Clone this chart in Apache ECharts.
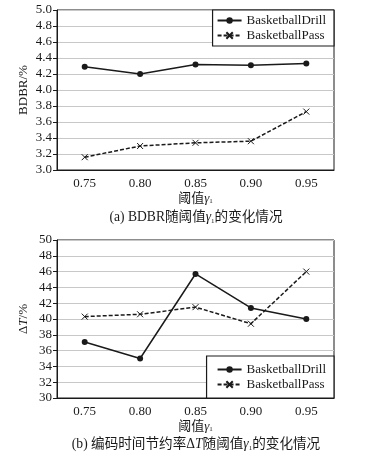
<!DOCTYPE html>
<html><head><meta charset="utf-8">
<script src="https://cdn.jsdelivr.net/npm/echarts@6/dist/echarts.min.js"></script>
<style>html,body{margin:0;padding:0;background:#fff}#c{width:366px;height:460px}</style>
</head><body><div id="c"></div>
<script>
const categories = ['0.75', '0.80', '0.85', '0.90', '0.95'];
const bdbrDrill = [4.29, 4.20, 4.32, 4.31, 4.33];
const bdbrPass = [3.16, 3.30, 3.34, 3.36, 3.73];
const dtDrill = [37.1, 35.0, 45.7, 41.4, 40.0];
const dtPass = [40.3, 40.6, 41.5, 39.4, 46.0];
const seriesNames = ['BasketballDrill', 'BasketballPass'];

const FONT = '"Liberation Serif", "Noto Sans CJK SC", serif';
const INK = '#1a1a1a';
const chart = echarts.init(document.getElementById('c'));
const xSym = 'path://M0,0L10,10M0,10L10,0';

function xAxis(gi) {
  return {
    gridIndex: gi, type: 'category', data: categories, boundaryGap: true,
    axisLine: {lineStyle: {color: INK, width: 1}},
    axisTick: {show: false},
    axisLabel: {color: INK, fontFamily: FONT, fontSize: 13, margin: 7},
    name: '{n|阈值}{g|γ}{s|1}', nameLocation: 'middle', nameGap: 22,
    nameTextStyle: {rich: {
      n: {fontFamily: FONT, fontSize: 13, color: INK},
      g: {fontFamily: FONT, fontSize: 13, fontStyle: 'italic', color: INK},
      s: {fontFamily: FONT, fontSize: 7, color: INK, verticalAlign: 'bottom', padding: [6, 0, 0, 0]}
    }}
  };
}
function yAxis(gi, min, max, interval, name, fmt) {
  return {
    gridIndex: gi, type: 'value', min: min, max: max, interval: interval,
    axisLine: {show: true, lineStyle: {color: INK, width: 1}},
    axisTick: {show: true, length: 4, lineStyle: {color: INK}},
    axisLabel: {color: INK, fontFamily: FONT, fontSize: 13, margin: 5, formatter: fmt},
    splitLine: {lineStyle: {color: '#c8c8c8', width: 1}},
    name: name, nameLocation: 'middle', nameGap: 27, nameRotate: 90, nameMoveOverlap: false,
    nameTextStyle: {color: INK, fontFamily: FONT, fontSize: 13, rich: {
      t: {fontFamily: FONT, fontSize: 13, color: INK},
      i: {fontFamily: FONT, fontSize: 13, fontStyle: 'italic', color: INK}
    }}
  };
}
function lineSeries(name, xi, data, dashed) {
  return {
    name: name, type: 'line', xAxisIndex: xi, yAxisIndex: xi, data: data,
    symbol: dashed ? xSym : 'circle', symbolSize: 6,
    lineStyle: {color: INK, width: 1.5, type: dashed ? [4, 2] : 'solid'},
    itemStyle: dashed ? {color: 'none', borderColor: INK, borderWidth: 1} : {color: INK, borderWidth: 0},
    emphasis: {disabled: true}, animation: false
  };
}
function legend(top, right, pad) {
  return {
    orient: 'vertical', top: top, right: right, data: seriesNames,
    padding: pad, itemGap: 2, itemWidth: 24, itemHeight: 8,
    backgroundColor: '#fff', borderColor: INK, borderWidth: 1.2,
    textStyle: {color: INK, fontFamily: FONT, fontSize: 13}
  };
}
const cap = {fontFamily: FONT, fontSize: 13.6, color: INK, fontWeight: 'normal'};
const capRich = {t: cap, g: Object.assign({}, cap, {fontStyle: 'italic'}), s: Object.assign({}, cap, {fontSize: 7, padding: [6, 0, 0, 0]})};
chart.setOption({
  backgroundColor: '#fff',
  title: [
    {text: '{t|(a) BDBR随阈值}{g|γ}{s|1}{t|的变化情况}', left: 191, top: 206, textAlign: 'center',
      textStyle: {fontWeight: 'normal', rich: capRich}},
    {text: '{t|(b) 编码时间节约率Δ}{g|T}{t|随阈值}{g|γ}{s|1}{t|的变化情况}', left: 191, top: 433, textAlign: 'center',
      textStyle: {fontWeight: 'normal', rich: capRich}}
  ],
  grid: [
    {left: 57, top: 10, width: 277, height: 160, show: true, borderColor: INK, borderWidth: 1, backgroundColor: 'transparent'},
    {left: 57, top: 240, width: 277, height: 158, show: true, borderColor: INK, borderWidth: 1, backgroundColor: 'transparent'}
  ],
  legend: [legend(10, 32, [4, 8, 4, 4]), legend(356, 32, [7, 8, 7, 10])],
  xAxis: [xAxis(0), xAxis(1)],
  yAxis: [
    yAxis(0, 3.0, 5.0, 0.2, 'BDBR/%', v => v.toFixed(1)),
    yAxis(1, 30, 50, 2, '{t|Δ}{i|T}{t|/%}', v => String(v))
  ],
  series: [
    lineSeries(seriesNames[0], 0, bdbrDrill, false),
    lineSeries(seriesNames[1], 0, bdbrPass, true),
    lineSeries(seriesNames[0], 1, dtDrill, false),
    lineSeries(seriesNames[1], 1, dtPass, true)
  ]
});
</script></body></html>
